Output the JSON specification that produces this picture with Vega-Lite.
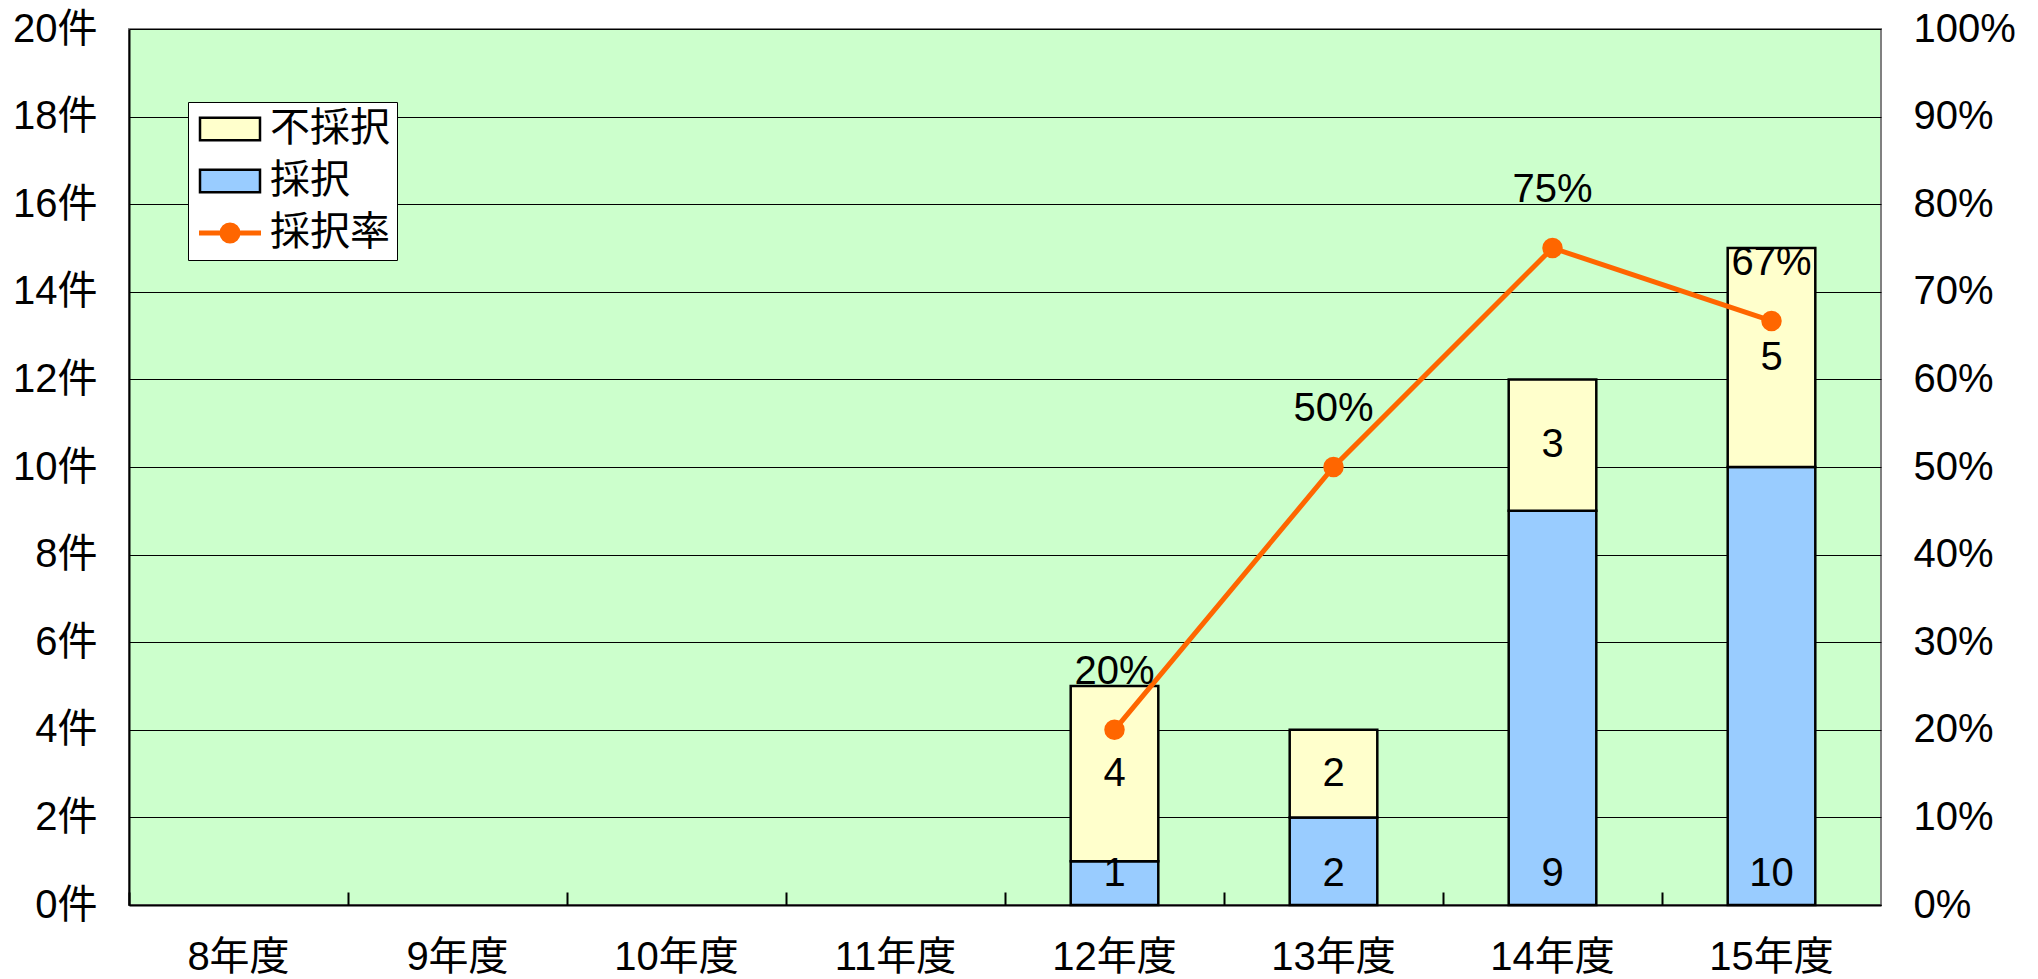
{
  "$schema": "https://vega.github.io/schema/vega-lite/v6.json",
  "autosize": {"type": "none"},
  "padding": {"left": 129, "top": 29, "right": 157, "bottom": 74},
  "width": 1752,
  "height": 876,
  "background": "white",
  "config": {
    "font": "Liberation Sans, Noto Sans CJK JP",
    "view": {"fill": "#CCFFCC", "stroke": "#808080", "strokeWidth": 2},
    "axis": {"labelFont": "Liberation Sans, Noto Sans CJK JP", "labelColor": "black"}
  },
  "datasets": {
    "counts": [
      {"年度": "12年度", "区分": "採択", "件数": 1, "順": 1},
      {"年度": "12年度", "区分": "不採択", "件数": 4, "順": 2},
      {"年度": "13年度", "区分": "採択", "件数": 2, "順": 1},
      {"年度": "13年度", "区分": "不採択", "件数": 2, "順": 2},
      {"年度": "14年度", "区分": "採択", "件数": 9, "順": 1},
      {"年度": "14年度", "区分": "不採択", "件数": 3, "順": 2},
      {"年度": "15年度", "区分": "採択", "件数": 10, "順": 1},
      {"年度": "15年度", "区分": "不採択", "件数": 5, "順": 2}
    ],
    "rates": [
      {"年度": "12年度", "採択率": 0.2, "ラベル": "20%"},
      {"年度": "13年度", "採択率": 0.5, "ラベル": "50%"},
      {"年度": "14年度", "採択率": 0.75, "ラベル": "75%"},
      {"年度": "15年度", "採択率": 0.6667, "ラベル": "67%"}
    ]
  },
  "encoding": {
    "x": {
      "field": "年度",
      "type": "nominal",
      "sort": null,
      "scale": {
        "domain": ["8年度", "9年度", "10年度", "11年度", "12年度", "13年度", "14年度", "15年度"],
        "paddingInner": 0,
        "paddingOuter": 0
      },
      "axis": {
        "title": null,
        "labelAngle": 0,
        "labelFontSize": 40,
        "labelBaseline": "top",
        "labelPadding": 45,
        "domainColor": "black",
        "domainWidth": 2,
        "ticks": true,
        "bandPosition": 0,
        "tickSize": -13,
        "tickColor": "black",
        "tickWidth": 2,
        "grid": false
      }
    }
  },
  "layer": [
    {
      "data": {"name": "counts"},
      "encoding": {
        "y": {
          "field": "件数",
          "type": "quantitative",
          "stack": "zero",
          "scale": {"domain": [0, 20], "nice": false},
          "axis": {
            "title": null,
            "orient": "left",
            "values": [0, 2, 4, 6, 8, 10, 12, 14, 16, 18, 20],
            "labelExpr": "datum.value + '件'",
            "labelFontSize": 40,
            "labelPadding": 32,
            "ticks": false,
            "domainColor": "black",
            "domainWidth": 2,
            "grid": true,
            "gridColor": "black",
            "gridWidth": 1.2
          }
        },
        "order": {"field": "順", "type": "quantitative"}
      },
      "layer": [
        {
          "mark": {"type": "bar", "stroke": "black", "strokeWidth": 2.5, "width": {"band": 0.4}},
          "encoding": {
            "color": {
              "field": "区分",
              "type": "nominal",
              "scale": {
                "domain": ["不採択", "採択", "採択率"],
                "range": ["#FFFFCC", "#99CCFF", "#FF6600"]
              },
              "legend": {
                "title": null,
                "orient": "none",
                "legendX": 59,
                "legendY": 73,
                "direction": "vertical",
                "fillColor": "white",
                "strokeColor": "black",
                "padding": 7,
                "labelFontSize": 40,
                "labelFont": "Liberation Sans, Noto Sans CJK JP",
                "labelColor": "black",
                "labelOffset": 20,
                "symbolOffset": 15,
                "symbolSize": 1600,
                "symbolType": "M-1.5,-0.56H1.5V0.56H-1.5Z",
                "symbolStrokeColor": "black",
                "symbolStrokeWidth": 2.5,
                "symbolOpacity": 1,
                "rowPadding": 12,
                "encode": {
                  "symbols": {
                    "update": {
                      "shape": {"signal": "datum.value === '採択率' ? 'M-1.55,0H1.55M-0.4,0A0.4,0.4 0 1,0 0.4,0A0.4,0.4 0 1,0 -0.4,0Z' : 'M-1.5,-0.56H1.5V0.56H-1.5Z'"},
                      "stroke": {"signal": "datum.value === '採択率' ? '#FF6600' : 'black'"},
                      "strokeWidth": {"signal": "datum.value === '採択率' ? 5 : 2.5"}
                    }
                  }
                }
              }
            }
          }
        },
        {
          "mark": {"type": "text", "fontSize": 40, "color": "black", "baseline": "middle", "align": "center"},
          "encoding": {
            "y": {"field": "件数", "type": "quantitative", "stack": "zero", "bandPosition": 0.5},
            "text": {"condition": {"test": "datum['区分'] === '採択'", "value": ""}, "field": "件数", "type": "quantitative"}
          }
        }
      ]
    },
    {
      "data": {"name": "counts"},
      "transform": [{"filter": "datum['区分'] === '採択'"}],
      "mark": {"type": "text", "fontSize": 40, "color": "black", "baseline": "middle", "align": "center", "dy": -31},
      "encoding": {
        "y": {"datum": 0, "type": "quantitative", "scale": {"domain": [0, 20], "nice": false}, "axis": null},
        "text": {"field": "件数", "type": "quantitative"}
      }
    },
    {
      "data": {"name": "rates"},
      "encoding": {
        "y": {
          "field": "採択率",
          "type": "quantitative",
          "scale": {"domain": [0, 1], "nice": false},
          "axis": {
            "title": null,
            "orient": "right",
            "values": [0, 0.1, 0.2, 0.3, 0.4, 0.5, 0.6, 0.7, 0.8, 0.9, 1],
            "format": ".0%",
            "labelFontSize": 40,
            "labelPadding": 32,
            "ticks": false,
            "domain": false,
            "grid": false
          }
        }
      },
      "layer": [
        {
          "mark": {"type": "line", "strokeWidth": 5, "color": "#FF6600"}
        },
        {
          "mark": {"type": "point", "filled": true, "size": 420, "opacity": 1, "color": "#FF6600"}
        },
        {
          "mark": {"type": "text", "fontSize": 40, "color": "black", "dy": -58, "baseline": "middle", "align": "center"},
          "encoding": {"text": {"field": "ラベル", "type": "nominal"}}
        }
      ]
    }
  ],
  "resolve": {"scale": {"y": "independent"}}
}
